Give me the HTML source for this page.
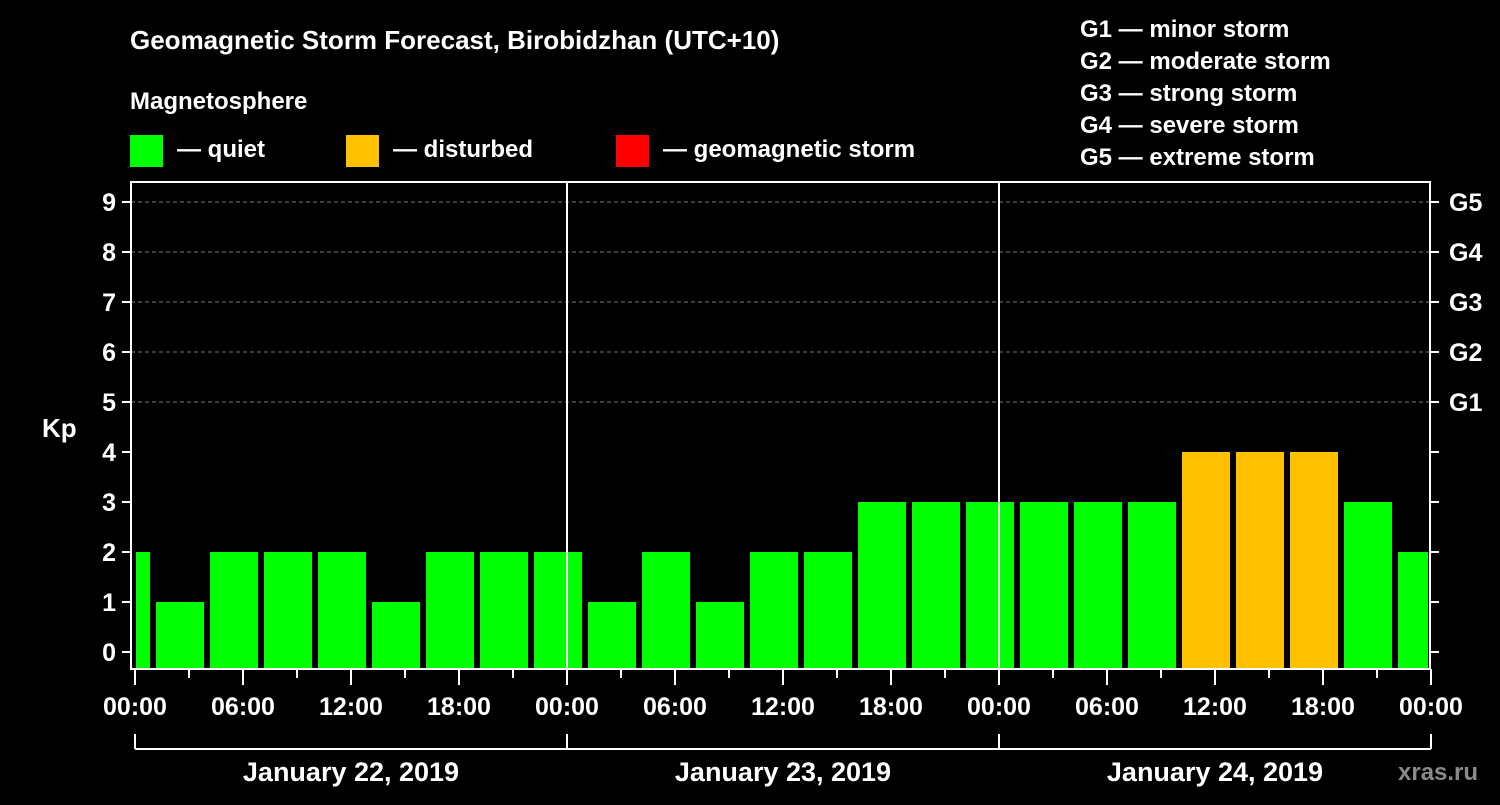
<!DOCTYPE html>
<html><head><meta charset="utf-8"><style>
body{margin:0;background:#000;}
svg text{font-family:"Liberation Sans",Arial,sans-serif;font-weight:bold;fill:#fff;}
</style></head><body>
<svg width="1500" height="800" viewBox="0 0 1500 800">
<rect width="1500" height="800" fill="#000"/>
<text x="130" y="49" font-size="26">Geomagnetic Storm Forecast, Birobidzhan (UTC+10)</text>
<text x="130" y="109" font-size="24">Magnetosphere</text>
<g><rect x="130" y="135" width="33" height="32" fill="#00ff00"/><text x="177" y="157" font-size="24">— quiet</text></g>
<g><rect x="346" y="135" width="33" height="32" fill="#ffc000"/><text x="393" y="157" font-size="24">— disturbed</text></g>
<g><rect x="616" y="135" width="33" height="32" fill="#ff0000"/><text x="663" y="157" font-size="24">— geomagnetic storm</text></g>
<g font-size="24">
<text x="1080" y="37">G1 — minor storm</text>
<text x="1080" y="69">G2 — moderate storm</text>
<text x="1080" y="101">G3 — strong storm</text>
<text x="1080" y="133">G4 — severe storm</text>
<text x="1080" y="165">G5 — extreme storm</text>
</g>
<text x="42" y="437" font-size="26">Kp</text>
<text x="1398" y="780" font-size="24" fill="#888" style="fill:#8a8a8a">xras.ru</text>
<g id="plot"></g>
</svg>
<script>
const kpValues=[2,1,2,2,2,1,2,2,2,1,2,1,2,2,3,3,3,3,3,3,4,4,4,3,2];
const yTicks=[0,1,2,3,4,5,6,7,8,9];
const gLabels=["G1","G2","G3","G4","G5"];
const xTickLabels=["00:00","06:00","12:00","18:00","00:00","06:00","12:00","18:00","00:00","06:00","12:00","18:00","00:00"];
const dayLabels=["January 22, 2019","January 23, 2019","January 24, 2019"];
const L=131,R=1430,T=182,B=669,X0=135,PXH=18;
const y=v=>652-50*v;
const x=h=>X0+h*PXH;
const g=document.getElementById('plot');
const NS="http://www.w3.org/2000/svg";
function mk(t,a){const e=document.createElementNS(NS,t);for(const k in a)e.setAttribute(k,a[k]);g.appendChild(e);return e;}
// grid
yTicks.forEach(v=>{if(v>=5){const e=mk('line',{x1:L,x2:R,y1:y(v),y2:y(v),stroke:'#777','stroke-dasharray':'4,3','stroke-width':1});

}});
// bars
kpValues.forEach((v,i)=>{const c=-0.5+3*i;let a=Math.max(x(c)-24,X0+1),b=Math.min(x(c)+24,R-2);
const r=mk('rect',{x:a,y:y(v),width:b-a,height:B-1-y(v),fill:v>=5?'#ff0000':v>=4?'#ffc000':'#00ff00'});

});
// day separators
[1,2].forEach(d=>{const e=mk('line',{x1:x(24*d),x2:x(24*d),y1:T,y2:B,stroke:'#fff','stroke-width':2});

});
// frame
const f=mk('rect',{x:L,y:T,width:R-L,height:B-T,fill:'none',stroke:'#fff','stroke-width':2});


// y ticks
yTicks.forEach(v=>{mk('line',{x1:L-9,x2:L,y1:y(v),y2:y(v),stroke:'#fff','stroke-width':2});
mk('line',{x1:R,x2:R+9,y1:y(v),y2:y(v),stroke:'#fff','stroke-width':2});
const t=mk('text',{x:116,y:y(v)+9,'font-size':25,'text-anchor':'end'});t.textContent=v;

});
gLabels.forEach((s,i)=>{const t=mk('text',{x:1449,y:y(5+i)+9,'font-size':25});t.textContent=s;

});
// x ticks
for(let h=0;h<=72;h+=3){const maj=h%6==0;mk('line',{x1:x(h),x2:x(h),y1:B,y2:B+(maj?16:9),stroke:'#fff','stroke-width':2});}
xTickLabels.forEach((s,i)=>{const t=mk('text',{x:x(6*i),y:715,'font-size':25,'text-anchor':'middle'});t.textContent=s;

});
// day bracket
mk('line',{x1:x(0),x2:x(72),y1:749,y2:749,stroke:'#fff','stroke-width':2});
[0,1,2,3].forEach(d=>mk('line',{x1:x(24*d),x2:x(24*d),y1:734,y2:749,stroke:'#fff','stroke-width':2}));
dayLabels.forEach((s,i)=>{const t=mk('text',{x:x(24*i+12),y:781,'font-size':27,'text-anchor':'middle'});t.textContent=s;

});
</script>
</body></html>
